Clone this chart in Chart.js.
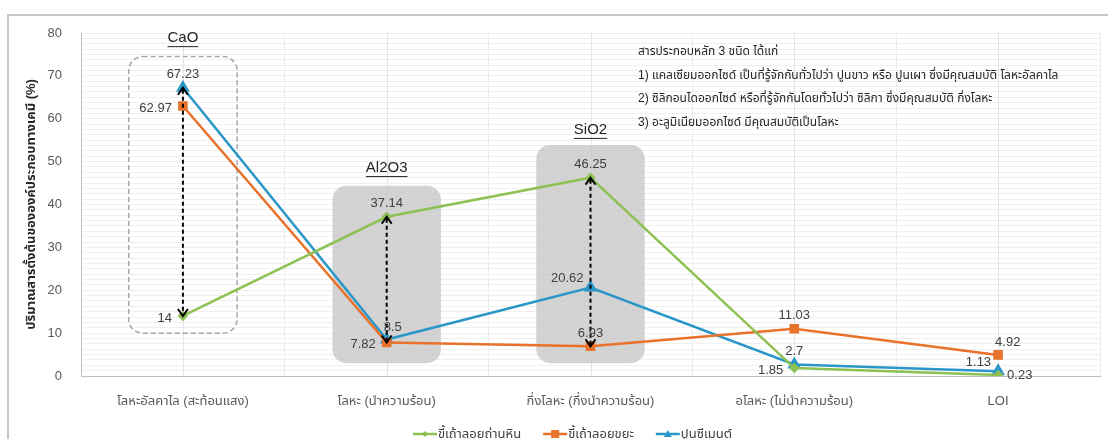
<!DOCTYPE html>
<html>
<head>
<meta charset="utf-8">
<script src="https://cdn.jsdelivr.net/npm/chart.js@4.4.1/dist/chart.umd.min.js"></script>
<style>
  html, body { margin: 0; padding: 0; background: #fff; }
  #wrap { width: 1108px; height: 439px; position: relative; }
</style>
</head>
<body>
<div id="wrap"><canvas id="chart-oxides"></canvas></div>
<script>
const categories = ['โลหะอัลคาไล (สะท้อนแสง)', 'โลหะ (นำความร้อน)', 'กึ่งโลหะ (กึ่งนำความร้อน)', 'อโลหะ (ไม่นำความร้อน)', 'LOI'];
const seriesNames = ['ขี้เถ้าลอยถ่านหิน', 'ขี้เถ้าลอยขยะ', 'ปูนซีเมนต์'];
const coalAsh = [14, 37.14, 46.25, 1.85, 0.23];
const wasteAsh = [62.97, 7.82, 6.93, 11.03, 4.92];
const cement = [67.23, 8.5, 20.62, 2.7, 1.13];
const yTicks = [0, 10, 20, 30, 40, 50, 60, 70, 80];
const oxideNames = ['CaO', 'Al2O3', 'SiO2'];
const noteLines = [
    'สารประกอบหลัก 3 ชนิด ได้แก่',
    '1) แคลเซียมออกไซด์ เป็นที่รู้จักกันทั่วไปว่า ปูนขาว หรือ ปูนเผา ซึ่งมีคุณสมบัติ โลหะอัลคาไล',
    '2) ซิลิกอนไดออกไซด์ หรือที่รู้จักกันโดยทั่วไปว่า ซิลิกา ซึ่งมีคุณสมบัติ กึ่งโลหะ',
    '3) อะลูมิเนียมออกไซด์ มีคุณสมบัติเป็นโลหะ',
];

const FONT = '"Liberation Sans", "Noto Sans Thai", "Noto Sans", sans-serif';
const colors = ['#8dc153', '#e8712b', '#2a97c8'];

// where each value label sits relative to its point
const labelPos = [
    ['l', 't', 't', 'l', 'r'],
    ['l', 'l', 't', 't', 'tr'],
    ['t', 'tr', 'tl', 't', 'tl'],
];

// highlight boxes: category index, value range
const boxes = [
    { idx: 0, lo: 10, hi: 74.5, dashed: true, title: 78.8 },
    { idx: 1, lo: 3, hi: 44.4, dashed: false, title: 48.5 },
    { idx: 2, lo: 3, hi: 53.9, dashed: false, title: 57.4 },
];
// double arrows: category index, top series, bottom series
const arrows = [
    { idx: 0, a: 2, b: 0 },
    { idx: 1, a: 0, b: 1 },
    { idx: 2, a: 0, b: 1 },
];

function roundRect(ctx, x, y, w, h, r) {
    ctx.beginPath();
    ctx.moveTo(x + r, y);
    ctx.arcTo(x + w, y, x + w, y + h, r);
    ctx.arcTo(x + w, y + h, x, y + h, r);
    ctx.arcTo(x, y + h, x, y, r);
    ctx.arcTo(x, y, x + w, y, r);
    ctx.closePath();
}

const decorations = {
    id: 'decorations',
    beforeDatasetsDraw(chart) {
        const ctx = chart.ctx;
        const xs = chart.scales.x, ys = chart.scales.y;
        const half = (xs.getPixelForValue(1) - xs.getPixelForValue(0)) * 0.266;
        ctx.save();
        // center gridlines
        ctx.strokeStyle = '#e4e4e4';
        ctx.lineWidth = 1;
        categories.forEach((c, i) => {
            const x = Math.round(xs.getPixelForValue(i)) + 0.5;
            ctx.beginPath();
            ctx.moveTo(x, chart.chartArea.top);
            ctx.lineTo(x, chart.chartArea.bottom);
            ctx.stroke();
        });
        boxes.forEach((b, k) => {
            const cx = xs.getPixelForValue(b.idx);
            const top = ys.getPixelForValue(b.hi), bot = ys.getPixelForValue(b.lo);
            roundRect(ctx, cx - half, top, half * 2, bot - top, 14);
            if (b.dashed) {
                ctx.setLineDash([5, 3]);
                ctx.strokeStyle = '#a6a6a6';
                ctx.lineWidth = 1.5;
                ctx.stroke();
                ctx.setLineDash([]);
            } else {
                ctx.fillStyle = 'rgba(200,200,200,0.8)';
                ctx.fill();
            }
            // oxide title, underlined
            ctx.font = '15px ' + FONT;
            ctx.fillStyle = '#262626';
            ctx.textAlign = 'center';
            ctx.textBaseline = 'middle';
            const ty = ys.getPixelForValue(b.title);
            ctx.fillText(oxideNames[k], cx, ty);
            const w = ctx.measureText(oxideNames[k]).width;
            ctx.fillRect(cx - w / 2, ty + 8, w, 1);
        });
        ctx.restore();
    },
    afterDatasetsDraw(chart) {
        const ctx = chart.ctx;
        const xs = chart.scales.x, ys = chart.scales.y;
        const all = [coalAsh, wasteAsh, cement];
        ctx.save();
        // double arrows
        arrows.forEach(ar => {
            const x = xs.getPixelForValue(ar.idx);
            const y1 = ys.getPixelForValue(all[ar.a][ar.idx]);
            const y2 = ys.getPixelForValue(all[ar.b][ar.idx]);
            ctx.strokeStyle = '#000';
            ctx.lineWidth = 2;
            ctx.setLineDash([4, 3]);
            ctx.beginPath();
            ctx.moveTo(x, y1 + 2);
            ctx.lineTo(x, y2 - 2);
            ctx.stroke();
            ctx.setLineDash([]);
            ctx.beginPath();
            ctx.moveTo(x - 5, y1 + 7); ctx.lineTo(x, y1); ctx.lineTo(x + 5, y1 + 7);
            ctx.moveTo(x - 5, y2 - 7); ctx.lineTo(x, y2); ctx.lineTo(x + 5, y2 - 7);
            ctx.stroke();
        });
        // value labels
        ctx.font = '13px ' + FONT;
        ctx.fillStyle = '#404040';
        all.forEach((vals, s) => {
            vals.forEach((v, i) => {
                const x = xs.getPixelForValue(i), y = ys.getPixelForValue(v);
                const p = labelPos[s][i];
                let dx = 0, dy = 0;
                ctx.textBaseline = 'middle';
                if (p === 'l') { ctx.textAlign = 'right'; dx = -11; dy = 2; }
                else if (p === 'r') { ctx.textAlign = 'left'; dx = 9; dy = 0; }
                else if (p === 't') { ctx.textAlign = 'center'; dy = -13; }
                else if (p === 'tl') { ctx.textAlign = 'right'; dx = -7; dy = -9; }
                else if (p === 'tr') { ctx.textAlign = 'left'; dx = -3; dy = -12; }
                ctx.fillText(String(v), x + dx, y + dy);
            });
        });
        // note text
        ctx.textAlign = 'left';
        ctx.textBaseline = 'middle';
        ctx.font = '12px ' + FONT;
        ctx.fillStyle = '#262626';
        noteLines.forEach((t, i) => ctx.fillText(t, 638, 52 + i * 23.5));
        // legend
        ctx.font = '13px ' + FONT;
        let lx = 413;
        const ly = 434;
        seriesNames.forEach((n, s) => {
            ctx.strokeStyle = colors[s];
            ctx.fillStyle = colors[s];
            ctx.lineWidth = 2.5;
            ctx.beginPath();
            ctx.moveTo(lx, ly); ctx.lineTo(lx + 24, ly);
            ctx.stroke();
            const mx = lx + 12;
            ctx.beginPath();
            if (s === 0) { ctx.moveTo(mx, ly - 3); ctx.lineTo(mx + 3, ly); ctx.lineTo(mx, ly + 3); ctx.lineTo(mx - 3, ly); }
            else if (s === 1) { ctx.rect(mx - 4, ly - 4, 8, 8); }
            else { ctx.moveTo(mx, ly - 4); ctx.lineTo(mx + 4, ly + 3); ctx.lineTo(mx - 4, ly + 3); }
            ctx.fill();
            ctx.fillStyle = '#404040';
            ctx.fillText(n, lx + 25, ly);
            lx += 25 + ctx.measureText(n).width + 22;
        });
        ctx.restore();
    },
    afterDraw(chart) {
        const ctx = chart.ctx;
        ctx.save();
        ctx.strokeStyle = '#c8c8c8';
        ctx.lineWidth = 2;
        ctx.beginPath();
        ctx.moveTo(8, chart.height);
        ctx.lineTo(8, 15);
        ctx.lineTo(chart.width, 15);
        ctx.stroke();
        ctx.restore();
    }
};

new Chart(document.getElementById('chart-oxides'), {
    type: 'line',
    data: {
        labels: categories,
        datasets: [
            {
                label: seriesNames[0], data: coalAsh,
                borderColor: colors[0], backgroundColor: colors[0],
                borderWidth: 2.5, pointStyle: 'rectRot', pointRadius: 3.5,
            },
            {
                label: seriesNames[1], data: wasteAsh,
                borderColor: colors[1], backgroundColor: colors[1],
                borderWidth: 2.5, pointStyle: 'rect', pointRadius: 5,
            },
            {
                label: seriesNames[2], data: cement,
                borderColor: colors[2], backgroundColor: colors[2],
                borderWidth: 2.5, pointStyle: 'triangle', pointRadius: 5.5,
            },
        ]
    },
    options: {
        responsive: true,
        maintainAspectRatio: false,
        animation: false,
        layout: { padding: { left: 0, right: 2, top: 33, bottom: 0 } },
        scales: {
            x: {
                offset: true,
                grid: { offset: true, color: '#ececec', drawTicks: false },
                border: { color: '#bfbfbf' },
                ticks: { color: '#595959', font: { family: FONT, size: 13 }, padding: 18, maxRotation: 0 },
                afterFit: s => { s.height = 63; },
            },
            y: {
                min: 0, max: 80,
                ticks: {
                    stepSize: 1.25, autoSkip: false,
                    color: '#595959', font: { family: FONT, size: 13 }, padding: 19,
                    callback: v => yTicks.includes(v) ? v : '',
                },
                grid: { color: '#f0f0f0', drawTicks: false },
                border: { color: '#bfbfbf' },
                title: {
                    display: true, text: 'ปริมาณสารตั้งต้นขององค์ประกอบทางเคมี (%)',
                    color: '#262626', font: { family: FONT, size: 13, weight: 'bold' },
                    padding: { top: 24, bottom: 0 },
                },
                afterFit: s => { s.width = 81; },
            }
        },
        plugins: {
            legend: { display: false },
            tooltip: { enabled: false },
        }
    },
    plugins: [decorations]
});
</script>
</body>
</html>
